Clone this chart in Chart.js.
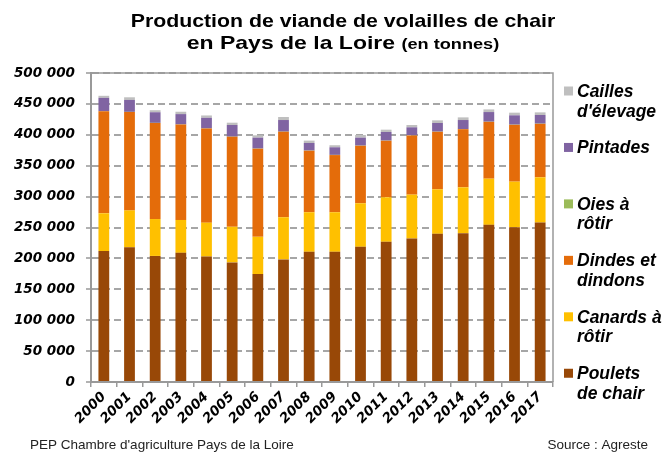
<!DOCTYPE html>
<html>
<head>
<meta charset="utf-8">
<script src="https://cdn.jsdelivr.net/npm/chart.js@4.4.0/dist/chart.umd.min.js"></script>
<style>
  html, body { margin: 0; padding: 0; background: #fff; }
  #wrap { width: 667px; height: 452px; position: relative; }
</style>
</head>
<body>
<div id="wrap"><canvas id="plot"></canvas></div>
<script>
// values in tonnes
const years = ['2000', '2001', '2002', '2003', '2004', '2005', '2006', '2007', '2008',
  '2009', '2010', '2011', '2012', '2013', '2014', '2015', '2016', '2017'];
const poulets = [212000, 218000, 204000, 209000, 203000, 193500, 174700, 198400, 210700,
  210700, 218800, 226900, 232200, 239800, 240800, 254300, 250500, 258000];
const canards = [61000, 59700, 59700, 53200, 54800, 57600, 60200, 68200, 64000,
  64000, 70400, 72000, 71000, 72000, 74200, 74700, 73700, 73200];
const dindes = [165000, 159100, 155300, 154300, 152200, 145600, 142500, 138200, 99500,
  92500, 93000, 91400, 95700, 93000, 94100, 91900, 91900, 86500];
const oies = [300, 300, 300, 300, 300, 300, 300, 300, 300,
  300, 300, 300, 300, 300, 300, 300, 300, 300];
const pintades = [21500, 19300, 17200, 16700, 17200, 18900, 17700, 18800, 12300,
  12300, 12900, 14000, 12900, 14000, 14500, 15600, 15100, 14000];
const cailles = [3300, 4300, 3300, 3800, 3800, 3700, 3800, 4900, 3800,
  3300, 4300, 3700, 3800, 4300, 4300, 4300, 4300, 4300];
const seriesNames = ['Poulets\nde chair', 'Canards à\nrôtir', 'Dindes et\ndindons',
  'Oies à\nrôtir', 'Pintades', 'Cailles\nd\'élevage'];
const yTicks = [0, 50000, 100000, 150000, 200000, 250000, 300000, 350000, 400000, 450000, 500000];

const colors = ['#984807', '#FFC000', '#E46C0A', '#9BBB59', '#8064A2', '#BFBFBF'];
const series = [poulets, canards, dindes, oies, pintades, cailles];

function fmt(v) {
  return String(v).replace(/\B(?=(\d{3})+(?!\d))/g, ' ');
}

function createDataset(i) {
  return {
    label: seriesNames[i].replace('\n', ' '),
    lines: seriesNames[i].split('\n'),
    data: series[i],
    backgroundColor: colors[i],
    borderWidth: 0,
    barPercentage: 0.42,
    categoryPercentage: 1,
  };
}

// title, side legend, footer and plot frame
const decorPlugin = {
  id: 'decor',
  beforeDraw: (chart) => {
    const ctx = chart.ctx;
    ctx.save();
    ctx.fillStyle = 'white';
    ctx.fillRect(0, 0, chart.width, chart.height);
    ctx.restore();
  },
  afterDraw: (chart) => {
    const ctx = chart.ctx;
    const area = chart.chartArea;
    ctx.save();

    // frame top/right
    ctx.strokeStyle = '#999';
    ctx.lineWidth = 1.5;
    ctx.beginPath();
    ctx.moveTo(area.left, area.top);
    ctx.lineTo(area.right, area.top);
    ctx.lineTo(area.right, area.bottom);
    ctx.stroke();

    // title
    ctx.fillStyle = '#000';
    ctx.textBaseline = 'alphabetic';
    const cx = 343;
    const big = 'bold 19px "Liberation Sans", Arial, sans-serif';
    const small = 'bold 15px "Liberation Sans", Arial, sans-serif';
    let sx = 1.12;
    ctx.font = big;
    const t1 = 'Production de viande de volailles de chair';
    const w = ctx.measureText(t1).width * sx;
    ctx.save();
    ctx.translate(cx - w / 2, 27);
    ctx.scale(sx, 1);
    ctx.fillText(t1, 0, 0);
    ctx.restore();

    sx = 1.21;
    const t2a = 'en Pays de la Loire ';
    const t2b = '(en tonnes)';
    ctx.font = big;
    const wa = ctx.measureText(t2a).width * sx;
    ctx.font = small;
    const wb = ctx.measureText(t2b).width * sx;
    ctx.save();
    ctx.translate(cx - (wa + wb) / 2, 49);
    ctx.scale(sx, 1);
    ctx.font = big;
    ctx.fillText(t2a, 0, 0);
    ctx.font = small;
    ctx.fillText(t2b, wa / sx, 0);
    ctx.restore();

    // legend, top item = last dataset
    ctx.font = 'italic bold 17.5px "Liberation Sans", Arial, sans-serif';
    const ds = chart.data.datasets.slice().reverse();
    ds.forEach((d, i) => {
      const y = 97 + i * 56.45;
      ctx.fillStyle = d.backgroundColor;
      ctx.fillRect(564, y - 10.5, 9, 9);
      ctx.fillStyle = '#000';
      d.lines.forEach((t, j) => ctx.fillText(t, 577, y + j * 19.5));
    });

    // footer
    ctx.font = '13.5px "Liberation Sans", Arial, sans-serif';
    ctx.fillStyle = '#222';
    ctx.textAlign = 'left';
    ctx.fillText('PEP Chambre d\'agriculture Pays de la Loire', 30, 449);
    ctx.textAlign = 'right';
    ctx.fillText('Source : Agreste', 648, 449);
    ctx.restore();
  }
};

const tickFont = { family: '"DejaVu Sans", sans-serif', size: 13.5, weight: 'bold', style: 'italic' };

const barChart = {
  type: 'bar',
  plugins: [decorPlugin],
  data: {
    labels: years,
    datasets: series.map((s, i) => createDataset(i)),
  },
  options: {
    responsive: true,
    maintainAspectRatio: false,
    devicePixelRatio: 1,
    animation: false,
    layout: {
      padding: { top: 73, right: 114, left: 0, bottom: 0 }
    },
    plugins: {
      legend: { display: false },
      title: { display: false },
      tooltip: { enabled: false }
    },
    scales: {
      x: {
        stacked: true,
        grid: {
          display: true,
          drawOnChartArea: false,
          drawTicks: true,
          tickLength: 5,
          offset: true,
          color: '#999',
          lineWidth: 1.5
        },
        border: { display: true, color: '#999', width: 2 },
        ticks: {
          color: '#000',
          font: tickFont,
          minRotation: 45,
          maxRotation: 45,
          autoSkip: false,
          padding: 2
        },
        afterFit: (scale) => { scale.height = 70; }
      },
      y: {
        stacked: true,
        min: 0,
        max: 500000,
        afterBuildTicks: (scale) => {
          scale.ticks = yTicks.map((v) => ({ value: v }));
        },
        grid: {
          color: '#a6a6a6',
          lineWidth: 2,
          tickLength: 5,
          tickColor: '#999',
          tickWidth: 1.5,
          tickBorderDash: []
        },
        border: { display: true, color: '#999', width: 2, dash: [7, 4] },
        ticks: {
          color: '#000',
          font: tickFont,
          padding: 11,
          callback: (v) => fmt(v)
        },
        afterFit: (scale) => { scale.width = 91; }
      }
    }
  }
};

const canvas = document.getElementById('plot');
const chart = new Chart(canvas.getContext('2d'), barChart);
</script>
</body>
</html>
